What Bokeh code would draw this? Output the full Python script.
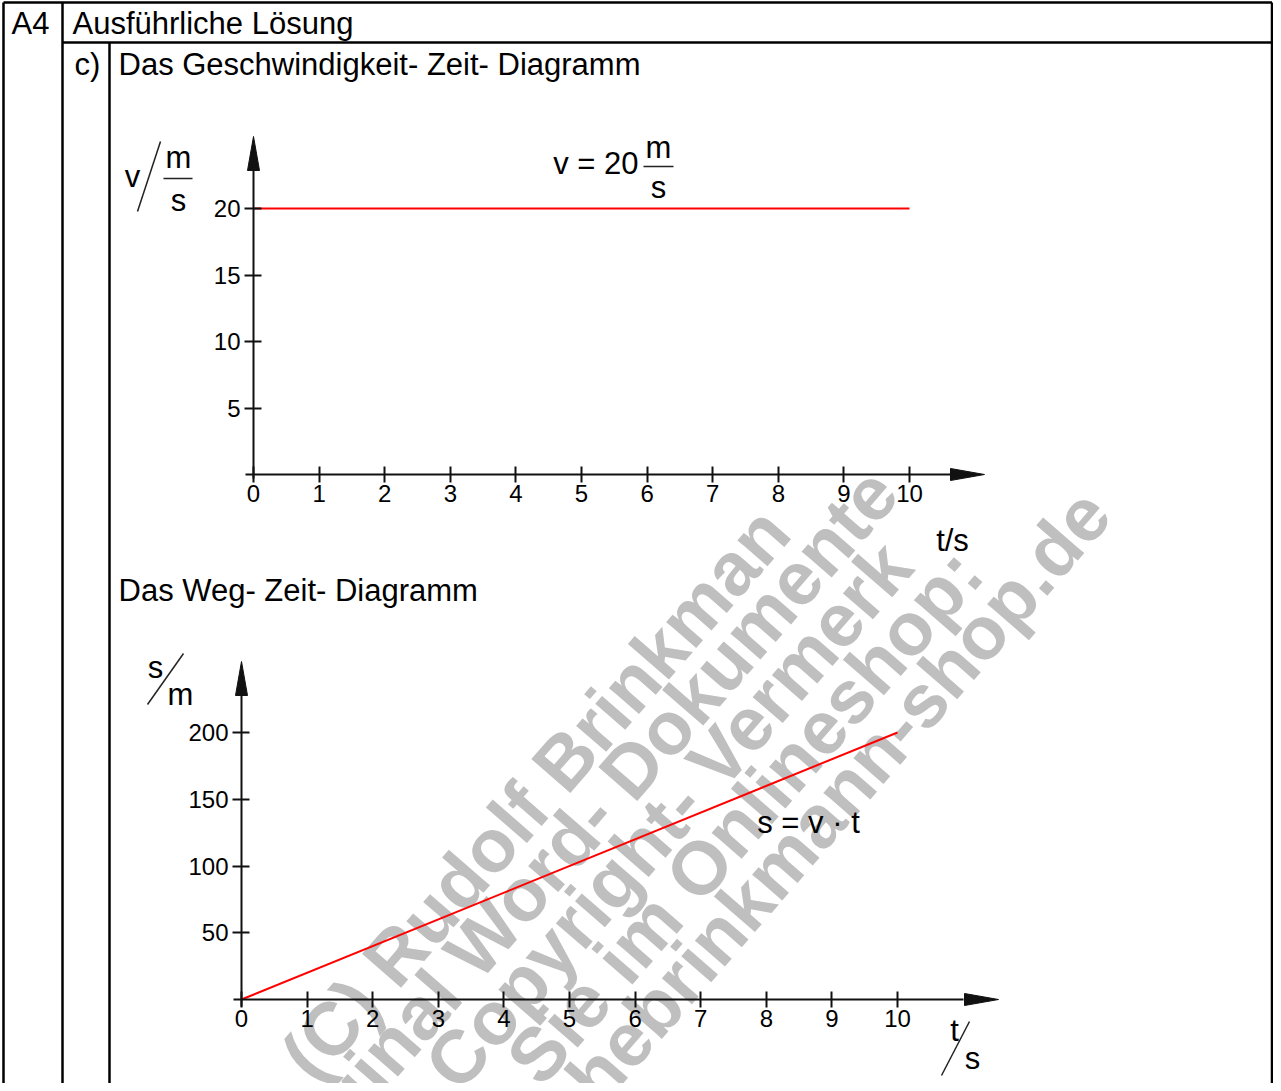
from bokeh.plotting import figure
from bokeh.models import Range1d, LinearAxis, FixedTicker
from bokeh.core.properties import value
from bokeh.embed import file_html
from bokeh.resources import INLINE

# ---------------- data ----------------
t_v = [0, 10]            # time, s (v-t diagram)
v_vals = [20, 20]        # velocity, m/s
t_s = [0, 10]            # time, s (s-t diagram)
s_vals = [0, 200]        # distance, m
t_ticks = [0, 1, 2, 3, 4, 5, 6, 7, 8, 9, 10]
v_ticks = [5, 10, 15, 20]
s_ticks = [50, 100, 150, 200]

head_num = "A4"
head_title = "Ausführliche Lösung"
part_label = "c)"
title_vt = "Das Geschwindigkeit- Zeit- Diagramm"
title_st = "Das Weg- Zeit- Diagramm"
v_formula = "v = 20"
s_formula = "s = v · t"
watermark_lines = ["(C) Rudolf Brinkman", "Original Word- Dokumente", "Copyright- Vermerk",
                   "Sie im Onlineshop:", "www.mathebrinkmann-shop.de"]

# ---------------- layout ----------------
W, H = 1273, 1083
X0, Y0 = 0, 0
X1, Y1 = X0 + W, Y0 + H
FONT = value("Liberation Sans")

p = figure(width=W, height=H, x_range=Range1d(X0, X1), y_range=Range1d(Y1, Y0),
           output_backend="svg", toolbar_location=None, min_border=0,
           x_axis_type=None, y_axis_type=None)
p.outline_line_color = None
p.xgrid.visible = False
p.ygrid.visible = False
p.background_fill_color = "white"


def rng(v0, p0, v1, p1, lo, hi):
    k = (v1 - v0) / (p1 - p0)
    return Range1d(v0 + (lo - p0) * k, v0 + (hi - p0) * k)


p.extra_x_ranges = {"t1": rng(0, 253, 10, 909, X0, X1), "t2": rng(0, 241, 10, 897, X0, X1)}
p.extra_y_ranges = {"v1": rng(0, 474, 20, 208, Y1, Y0), "s2": rng(0, 999, 200, 732, Y1, Y0)}

# ---------------- watermark ----------------
wm_x = [774, 882, 896, 967, 1095]
wm_y = [518, 479, 552, 559, 500]
p.text(x=wm_x, y=wm_y, text=watermark_lines, angle=49, angle_units="deg",
       text_font=FONT, text_font_style="bold", text_font_size="75px",
       text_color="#bfbfbf", text_align="right", text_baseline="middle")

# ---------------- table borders ----------------
RB = X1 - 1.5
p.segment(x0=[3, RB, 3, 62, 109, 62],
          y0=[2, 2, 2, 2, 42, 42],
          x1=[RB, RB, 3, 62, 109, RB],
          y1=[2, Y1, Y1, Y1, Y1, 42],
          line_color="black", line_width=2.5)

# ---------------- page texts ----------------
p.text(x=[11, 72, 74, 118, 118], y=[23, 23, 64, 64, 590],
       text=[head_num, head_title, part_label, title_vt, title_st],
       text_font=FONT, text_font_size="31px", text_color="black",
       text_align="left", text_baseline="middle")

# ---------------- axes ----------------
def style(ax, tin, tout):
    ax.axis_line_width = 2
    ax.axis_line_color = "#111111"
    ax.major_tick_line_width = 2
    ax.major_tick_line_color = "#111111"
    ax.major_tick_in = tin
    ax.major_tick_out = tout
    ax.minor_tick_line_color = None
    ax.major_label_text_font = "Liberation Sans"
    ax.major_label_text_font_size = "24px"
    ax.major_label_text_color = "black"


ax1 = LinearAxis(x_range_name="t1", y_range_name="v1", fixed_location=0,
                 ticker=FixedTicker(ticks=t_ticks), bounds=(-0.12, 10.9))
style(ax1, 8, 8)
ax1.major_label_standoff = 2
p.add_layout(ax1, "below")

ay1 = LinearAxis(x_range_name="t1", y_range_name="v1", fixed_location=0,
                 ticker=FixedTicker(ticks=v_ticks), bounds=(-0.3, 23.5))
style(ay1, 8, 9)
ay1.major_label_standoff = 4
p.add_layout(ay1, "left")

ax2 = LinearAxis(x_range_name="t2", y_range_name="s2", fixed_location=0,
                 ticker=FixedTicker(ticks=t_ticks), bounds=(-0.12, 11.0))
style(ax2, 8, 8)
ax2.major_label_standoff = 2
p.add_layout(ax2, "below")

ay2 = LinearAxis(x_range_name="t2", y_range_name="s2", fixed_location=0,
                 ticker=FixedTicker(ticks=s_ticks), bounds=(-5, 235))
style(ay2, 8, 9)
ay2.major_label_standoff = 4
p.add_layout(ay2, "left")

# arrow heads (page coordinates)
p.patches(xs=[[984, 950, 950], [253, 247, 259], [998, 964, 964], [241, 235, 247]],
          ys=[[474, 468, 480], [136, 170, 170], [999, 993, 1005], [661, 695, 695]],
          fill_color="#111111", line_color="#111111", line_width=1)

# ---------------- data lines ----------------
p.line(t_v, v_vals, x_range_name="t1", y_range_name="v1", line_color="red", line_width=2)
p.line(t_s, s_vals, x_range_name="t2", y_range_name="s2", line_color="red", line_width=2)

# ---------------- axis titles / formulas ----------------
p.text(x=[132, 178, 178, 155, 180, 658, 658, 952, 954, 972, 808],
       y=[176, 157, 200, 667, 694, 147, 187, 540, 1030, 1058, 822],
       text=["v", "m", "s", "s", "m", "m", "s", "t/s", "t", "s", s_formula],
       text_font=FONT, text_font_size="31px", text_color="black",
       text_align="center", text_baseline="middle")
p.text(x=[638], y=[163], text=[v_formula], text_font=FONT, text_font_size="31px",
       text_color="black", text_align="right", text_baseline="middle")
# slashes and fraction bars
p.segment(x0=[137, 163, 147, 643, 941], y0=[211, 178, 704, 166, 1075],
          x1=[160, 192, 183, 673, 969], y1=[141, 178, 653, 166, 1021],
          line_color="#222222", line_width=1.5)

open("out.html", "w").write(file_html(p, INLINE))
